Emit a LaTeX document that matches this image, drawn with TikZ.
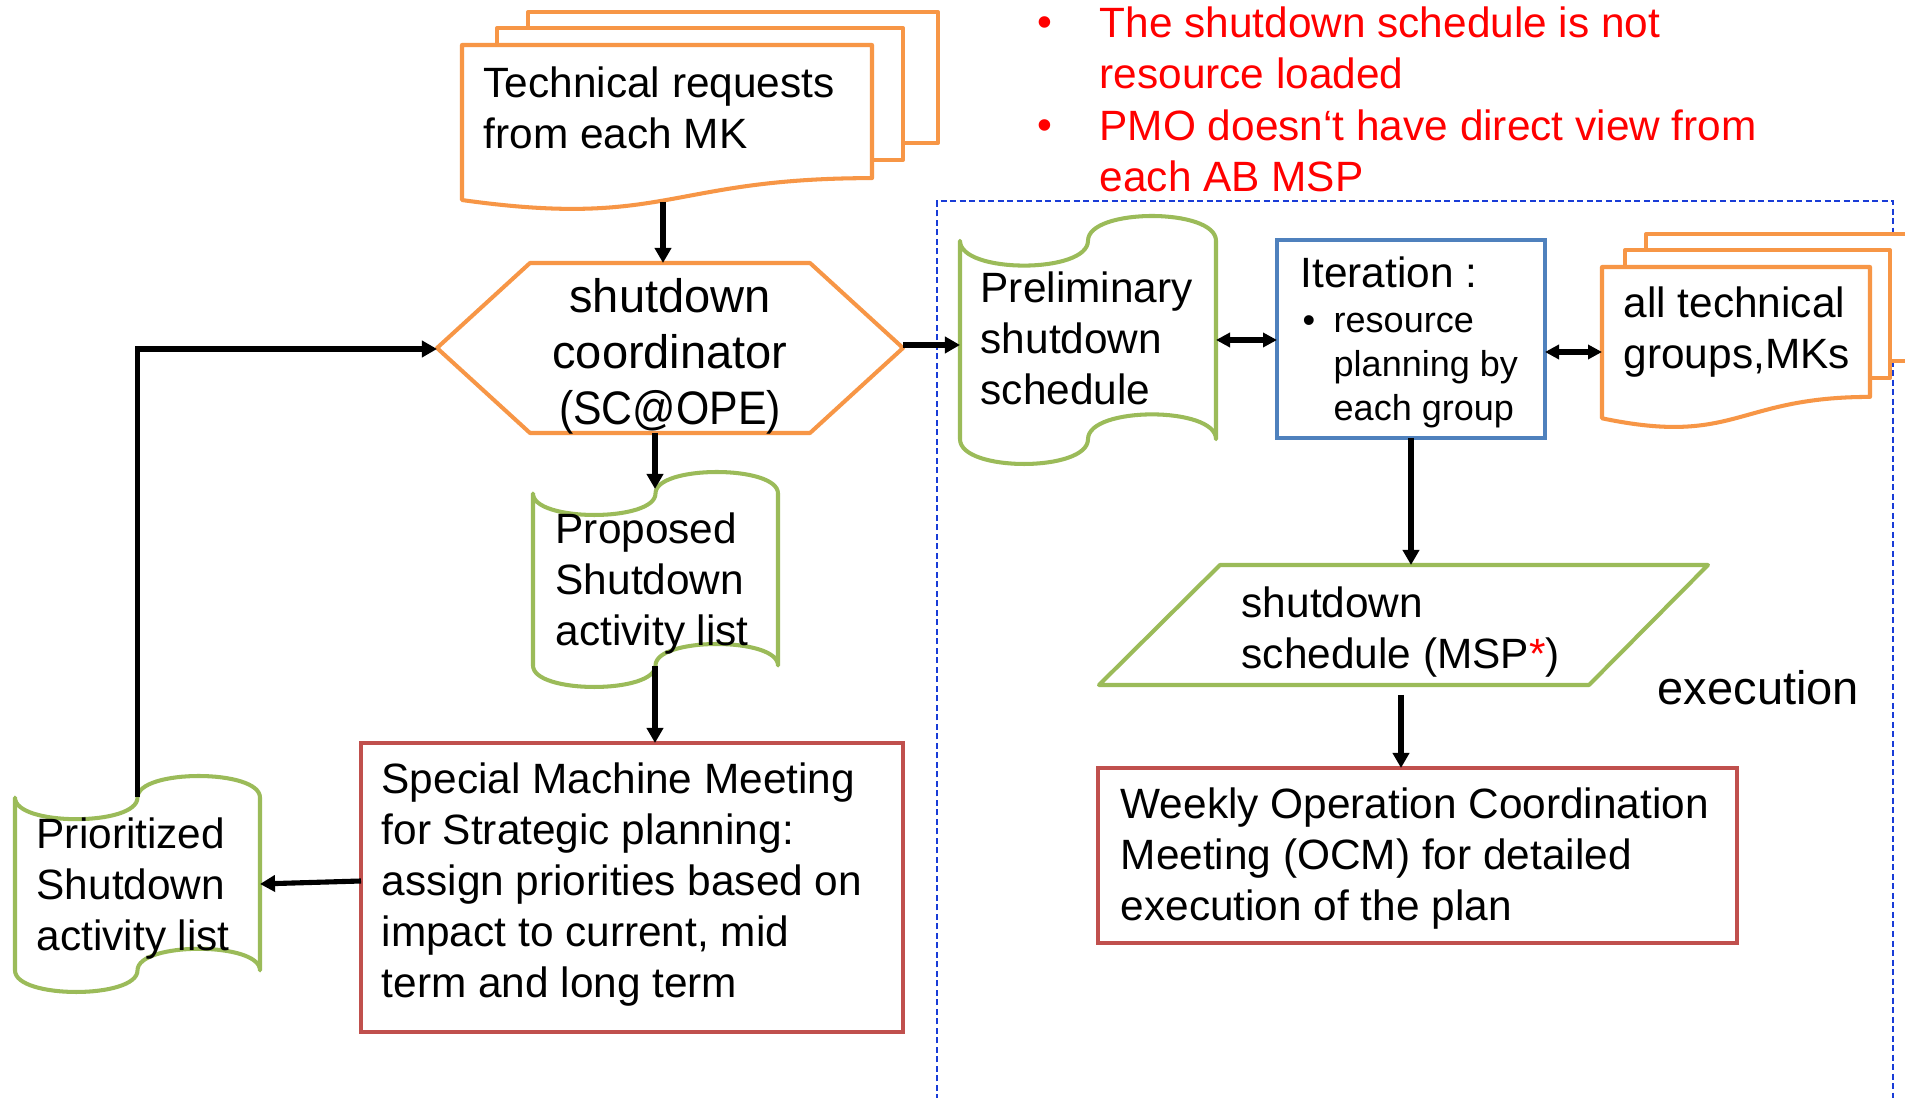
\documentclass[tikz,border=0pt]{standalone}
\usepackage{fontspec}
\usepackage{graphicx}
\setmainfont{Liberation Sans}
\usetikzlibrary{arrows.meta,calc}
\definecolor{orangeb}{RGB}{247,150,70}
\definecolor{greenb}{RGB}{155,187,89}
\definecolor{redb}{RGB}{192,80,77}
\definecolor{blueb}{RGB}{79,129,189}
\definecolor{dashblue}{RGB}{25,60,215}
\newcommand\ftA{\fontsize{12.05pt}{14.5pt}\selectfont}
\newcommand\ftH{\fontsize{13.37pt}{15.9pt}\selectfont}
\newcommand\ftB{\fontsize{10.24pt}{12.5pt}\selectfont}
\newcommand\stA{\rule{0pt}{0.38cm}}
\newcommand\stH{\rule{0pt}{0.42cm}}
\newcommand\stB{\rule{0pt}{0.32cm}}
\newcommand\tapeshape[5]{%
\draw[#1] ({#2},{#3+0.1*#5})
 .. controls ({#2},{#3+0.2333*#5}) and ({#2+0.5*#4},{#3+0.2333*#5}) .. ({#2+0.5*#4},{#3+0.1*#5})
 .. controls ({#2+0.5*#4},{#3-0.0333*#5}) and ({#2+#4},{#3-0.0333*#5}) .. ({#2+#4},{#3+0.1*#5})
 -- ({#2+#4},{#3+0.9*#5})
 .. controls ({#2+#4},{#3+0.7667*#5}) and ({#2+0.5*#4},{#3+0.7667*#5}) .. ({#2+0.5*#4},{#3+0.9*#5})
 .. controls ({#2+0.5*#4},{#3+1.0333*#5}) and ({#2},{#3+1.0333*#5}) .. ({#2},{#3+0.9*#5})
 -- cycle;}
\newcommand\docshape[5]{%
\draw[#1] ({#2},{#3}) -- ({#2+#4},{#3}) -- ({#2+#4},{#3+0.802*#5})
 .. controls ({#2+0.5*#4},{#3+0.802*#5}) and ({#2+0.5*#4},{#3+1.1075*#5}) .. ({#2},{#3+0.934*#5})
 -- cycle;}
\tikzset{
 orangeline/.style={draw=orangeb, line width=1.15pt, line join=round, fill=white},
 greenline/.style={draw=greenb, line width=1.15pt, line join=round, fill=white},
 redbox/.style={draw=redb, line width=1.15pt},
 bluebox/.style={draw=blueb, line width=1.15pt},
 conn/.style={line width=1.45pt, -{Triangle[length=0.15cm,width=0.16cm]}},
 dconn/.style={line width=1.45pt, {Triangle[length=0.14cm,width=0.14cm]}-{Triangle[length=0.14cm,width=0.14cm]}},
 txt/.style={anchor=north west, inner sep=0, align=left, font=\ftA},
 btxt/.style={anchor=north west, inner sep=0, align=left, font=\ftB},
 redtxt/.style={anchor=north west, inner sep=0, align=left, font=\ftA, text=red},
}
\begin{document}
\begin{tikzpicture}[x=0.01cm,y=-0.01cm]
\useasboundingbox (0,0) rectangle (1905,1098);
\clip (0,0) rectangle (1905,1098);
\fill[white] (0,0) rectangle (1905,1098);

% dashed frame
\draw[dashblue, line width=0.6pt, dash pattern=on 0.06cm off 0.035cm] (937,1110) |- (1893,201) -- (1893,1110);

% Technical requests (multi-document)
\draw[orangeline] (528,12) rectangle (938,143);
\draw[orangeline] (497,28) rectangle (903,160);
\docshape{orangeline}{462}{45}{410}{166}
\node[txt] (tech) at (483,59) {\stA Technical requests\\from each MK};

% hexagon
\draw[orangeline] (437,348) -- (530,263) -- (810,263) -- (903,348) -- (810,433) -- (530,433) -- cycle;
\node[anchor=north, inner sep=0, align=center, font=\ftH] (hex) at (670,270) {\stH shutdown\\coordinator\\\scalebox{0.91}[1]{(SC@OPE)}};

% Proposed
\tapeshape{greenline}{533}{472}{245}{215}
\node[txt] (prop) at (555,505) {\stA Proposed\\Shutdown\\activity list};

% Special Machine Meeting
\draw[redbox] (361,743) rectangle (903,1032);
\node[txt] (special) at (381,755) {\stA Special Machine Meeting\\for Strategic planning:\\assign priorities based on\\impact to current, mid\\term and long term};

% Prioritized
\tapeshape{greenline}{15}{776}{245}{216}
\node[txt] (prio) at (36,810) {\stA Prioritized\\Shutdown\\activity list};

% Preliminary
\tapeshape{greenline}{960}{216}{256}{248}
\node[txt] (prelim) at (980,264) {\stA Preliminary\\shutdown\\schedule};

% Iteration
\draw[bluebox] (1277,240) rectangle (1545,438);
\node[txt] (iter) at (1300,249) {\stA Iteration :};
\node[btxt] (bul) at (1302,300) {\stB •};
\node[btxt] (iteritem) at (1333,300) {\stB resource\\planning by\\each group};

% all technical groups
\draw[orangeline] (1646,234) rectangle (1925,361);
\draw[orangeline] (1625,250) rectangle (1890,378);
\docshape{orangeline}{1602}{267}{268}{162}
\node[txt] (alltech) at (1623,279) {\stA all technical\\groups,MKs};

% shutdown schedule parallelogram
\draw[greenline] (1220,565) -- (1708,565) -- (1589,685) -- (1099,685) -- cycle;
\node[txt] (msp) at (1241,579) {\stA shutdown\\schedule (MSP{\color{red}*})};

% Weekly OCM
\draw[redbox] (1098,768) rectangle (1737,943);
\node[txt] (weekly) at (1120,780) {\stA Weekly Operation Coordination\\Meeting (OCM) for detailed\\execution of the plan};

\node[anchor=base west, inner sep=0, font=\ftH] (exec) at (1657,705) {execution};

% red notes
\node[anchor=base west, inner sep=0, font=\ftA, text=red] (rb1) at (1037,37) {•};
\node[anchor=base west, inner sep=0, font=\ftA, text=red] (rb2) at (1037,140) {•};
\node[redtxt] (note1) at (1099,-1) {\stA The shutdown schedule is not\\resource loaded};
\node[redtxt] (note2) at (1099,102) {\stA PMO doesn‘t have direct view from\\each AB MSP};

% connector end points
\coordinate (techS) at (663,202);
\coordinate (hexN) at (663,263);
\coordinate (hexS) at (655,433);
\coordinate (hexW) at (437,349);
\coordinate (hexE) at (903,345);
\coordinate (propN) at (655,489);
\coordinate (propS) at (655,666);
\coordinate (specialN) at (655,743);
\coordinate (specialW) at (361,881);
\coordinate (prioE) at (260,884);
\coordinate (prioN) at (137.5,797);
\coordinate (prelimW) at (960,345);
\coordinate (prelimE) at (1216,340);
\coordinate (iterW) at (1277,340);
\coordinate (iterE) at (1545,352);
\coordinate (iterS) at (1411,438);
\coordinate (alltechW) at (1602,352);
\coordinate (mspN) at (1411,565);
\coordinate (mspS) at (1401,695);
\coordinate (weeklyN) at (1401,768);

\draw[conn] (techS) -- (hexN);
\draw[conn] (hexS) -- (propN);
\draw[conn] (propS) -- (specialN);
\draw[conn] (specialW) -- (prioE);
\draw[conn] (prioN) |- (hexW);
\draw[conn] (hexE) -- (prelimW);
\draw[dconn] (prelimE) -- (iterW);
\draw[dconn] (iterE) -- (alltechW);
\draw[conn] (iterS) -- (mspN);
\draw[conn] (mspS) -- (weeklyN);
\end{tikzpicture}
\end{document}
